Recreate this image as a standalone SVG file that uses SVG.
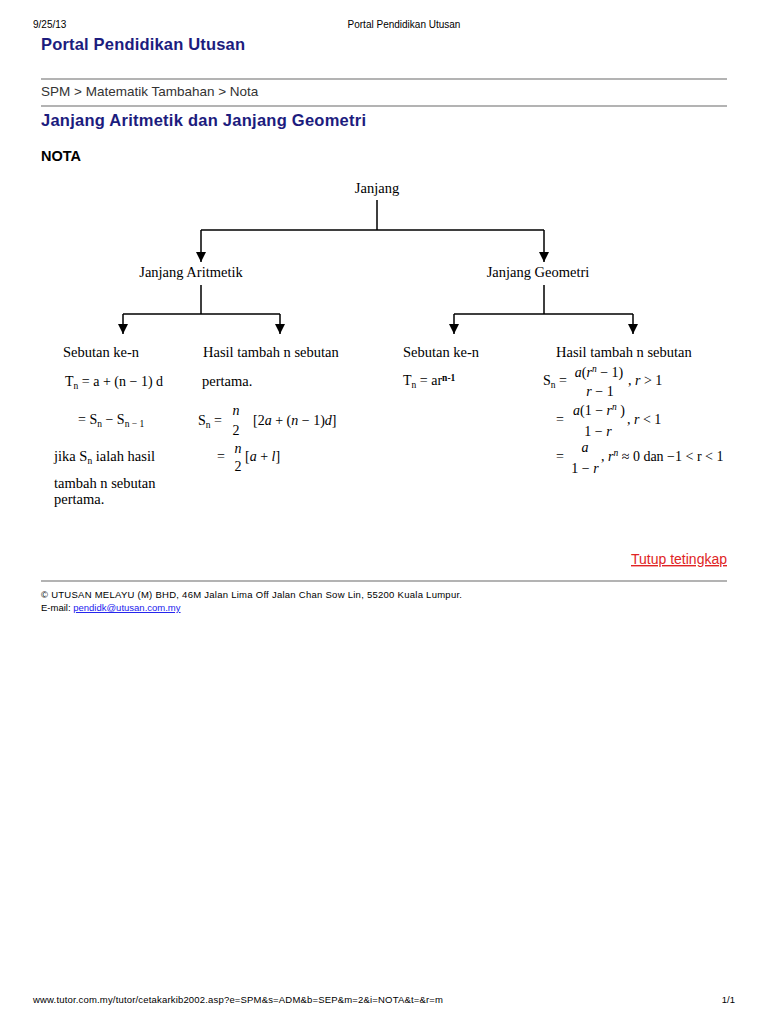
<svg xmlns="http://www.w3.org/2000/svg" width="768" height="1024" viewBox="0 0 768 1024">
<defs>
<marker id="arr" viewBox="0 0 10 10" refX="10" refY="5" markerWidth="10" markerHeight="10" markerUnits="userSpaceOnUse" orient="auto"><path d="M0,0 L10,5 L0,10 z" fill="#000"/></marker>
<style>
.sans{font-family:"Liberation Sans",Arial,sans-serif}
.hd{font-size:10px;fill:#000}
.ttl{font-size:16.5px;fill:#1c1c7e;font-weight:bold}
.crumb{font-size:13.5px;fill:#333}
.ser{font-family:"Liberation Serif","Times New Roman",serif;font-size:14.5px;fill:#000}
.m{font-family:"Liberation Serif","Times New Roman",serif;font-size:14px;fill:#000}
.i{font-style:italic}
.sub{font-size:9.5px}
.rule{stroke:#9a9a9a;stroke-width:1.5}
.con{stroke:#000;stroke-width:1.5;fill:none}
.ft{font-size:9.5px;fill:#000}
</style>
</defs>
<rect width="768" height="1024" fill="#fff"/>

<g id="header">
<text class="sans hd" x="33" y="28">9/25/13</text>
<text class="sans hd" x="404" y="28" text-anchor="middle">Portal Pendidikan Utusan</text>
<text class="sans ttl" x="41" y="50" textLength="204">Portal Pendidikan Utusan</text>
<line class="rule" x1="41" y1="79" x2="727" y2="79"/>
<text class="sans crumb" x="41" y="96">SPM &gt; Matematik Tambahan &gt; Nota</text>
<line class="rule" x1="41" y1="106" x2="727" y2="106"/>
<text class="sans ttl" x="41" y="126" textLength="325">Janjang Aritmetik dan Janjang Geometri</text>
<text class="sans" x="41" y="161" font-size="14.5" font-weight="bold">NOTA</text>
</g>

<g id="connectors">
<path class="con" d="M377,200 V230 M201,230 H544"/>
<path class="con" d="M201,230 V262" marker-end="url(#arr)"/>
<path class="con" d="M544,230 V262" marker-end="url(#arr)"/>
<path class="con" d="M201,285 V314 M123,314 H280"/>
<path class="con" d="M123,314 V334" marker-end="url(#arr)"/>
<path class="con" d="M280,314 V334" marker-end="url(#arr)"/>
<path class="con" d="M544,285 V314 M454,314 H633"/>
<path class="con" d="M454,314 V334" marker-end="url(#arr)"/>
<path class="con" d="M633,314 V334" marker-end="url(#arr)"/>
</g>

<g id="node-janjang"><text class="ser" x="377" y="193" text-anchor="middle">Janjang</text></g>
<g id="node-aritmetik"><text class="ser" x="191" y="277" text-anchor="middle">Janjang Aritmetik</text></g>
<g id="node-geometri"><text class="ser" x="538" y="277" text-anchor="middle">Janjang Geometri</text></g>

<g id="node-ar-sebutan">
<text class="ser" x="63" y="357">Sebutan ke-n</text>
<text class="m" x="65" y="386">T<tspan class="sub" dy="3">n</tspan><tspan dy="-3"> = a + (n − 1) d</tspan></text>
<text class="m" x="78" y="424">= S<tspan class="sub" dy="3">n</tspan><tspan dy="-3"> − S</tspan><tspan class="sub" dy="3">n − 1</tspan></text>
<text class="ser" x="54" y="461">jika S<tspan class="sub" dy="3">n</tspan><tspan dy="-3"> ialah hasil</tspan></text>
<text class="ser" x="54" y="488">tambah n sebutan</text>
<text class="ser" x="54" y="504">pertama.</text>
</g>

<g id="node-ar-hasil">
<text class="ser" x="203" y="357">Hasil tambah n sebutan</text>
<text class="ser" x="202" y="386">pertama.</text>
<text class="m" x="198" y="425">S<tspan class="sub" dy="3">n</tspan><tspan dy="-3"> =</tspan></text>
<text class="m i" x="236" y="415" text-anchor="middle">n</text>
<text class="m" x="236" y="435" text-anchor="middle">2</text>
<text class="m" x="253" y="425">[2<tspan class="i">a</tspan> + (<tspan class="i">n</tspan> − 1)<tspan class="i">d</tspan>]</text>
<text class="m" x="217" y="461">=</text>
<text class="m i" x="238" y="453" text-anchor="middle">n</text>
<text class="m" x="238" y="471" text-anchor="middle">2</text>
<text class="m" x="245" y="461">[<tspan class="i">a</tspan> + <tspan class="i">l</tspan>]</text>
</g>

<g id="node-geo-sebutan">
<text class="ser" x="403" y="357">Sebutan ke-n</text>
<text class="m" x="403" y="385">T<tspan class="sub" dy="3">n</tspan><tspan dy="-3"> = ar</tspan><tspan class="sub" font-weight="bold" dy="-4">n-1</tspan></text>
</g>

<g id="node-geo-hasil">
<text class="ser" x="556" y="357">Hasil tambah n sebutan</text>
<text class="m" x="543" y="385">S<tspan class="sub" dy="3">n</tspan><tspan dy="-3"> =</tspan></text>
<text class="m" x="599" y="377" text-anchor="middle"><tspan class="i">a</tspan>(<tspan class="i">r</tspan><tspan class="sub i" dy="-5">n</tspan><tspan dy="5"> − 1)</tspan></text>
<text class="m" x="600" y="396" text-anchor="middle"><tspan class="i">r</tspan> − 1</text>
<text class="m" x="628" y="385">, <tspan class="i">r</tspan> &gt; 1</text>

<text class="m" x="556" y="424">=</text>
<text class="m" x="599" y="415" text-anchor="middle"><tspan class="i">a</tspan>(1 − <tspan class="i">r</tspan><tspan class="sub i" dy="-5">n</tspan><tspan dy="5"> )</tspan></text>
<text class="m" x="598" y="436" text-anchor="middle">1 − <tspan class="i">r</tspan></text>
<text class="m" x="627" y="424">, <tspan class="i">r</tspan> &lt; 1</text>

<text class="m" x="556" y="461">=</text>
<text class="m i" x="585" y="452" text-anchor="middle">a</text>
<text class="m" x="585" y="473" text-anchor="middle">1 − <tspan class="i">r</tspan></text>
<text class="m" x="601" y="461">, <tspan class="i">r</tspan><tspan class="sub i" dy="-5">n</tspan><tspan dy="5"> ≈ 0 dan −1 &lt; r &lt; 1</tspan></text>
</g>

<g id="footer">
<text class="sans" x="727" y="564" font-size="14" fill="#e02424" text-anchor="end" text-decoration="underline">Tutup tetingkap</text>
<line class="rule" x1="41" y1="581" x2="727" y2="581"/>
<text class="sans ft" x="41" y="598" textLength="421">© UTUSAN MELAYU (M) BHD, 46M Jalan Lima Off Jalan Chan Sow  Lin, 55200 Kuala Lumpur.</text>
<text class="sans ft" x="41" y="611">E-mail: <tspan fill="#1a1aee" text-decoration="underline">pendidk@utusan.com.my</tspan></text>
<text class="sans ft" x="33" y="1003" textLength="410">www.tutor.com.my/tutor/cetakarkib2002.asp?e=SPM&amp;s=ADM&amp;b=SEP&amp;m=2&amp;i=NOTA&amp;t=&amp;r=m</text>
<text class="sans ft" x="735" y="1003" text-anchor="end">1/1</text>
</g>
</svg>
